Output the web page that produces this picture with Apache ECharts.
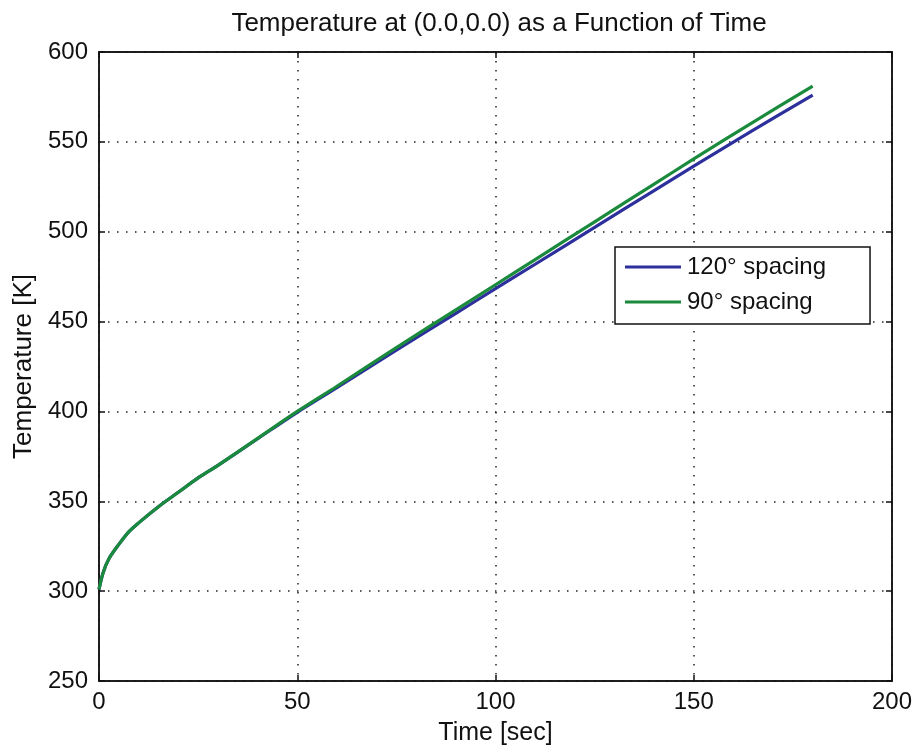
<!DOCTYPE html>
<html>
<head>
<meta charset="utf-8">
<script src="https://cdn.jsdelivr.net/npm/echarts@6/dist/echarts.min.js"></script>
<style>html,body{margin:0;padding:0;background:#fff;}#c{width:916px;height:748px;}</style>
</head>
<body>
<div id="c"></div>
<script>
var titleText = 'Temperature at (0.0,0.0) as a Function of Time';
var xName = 'Time [sec]';
var yName = 'Temperature [K]';
var seriesNames = ['120\u00b0 spacing', '90\u00b0 spacing'];
var times = [0, 1, 2.5, 5, 7.5, 10, 15, 20, 25, 30, 40, 50, 60, 75, 90, 100, 110, 125, 140, 150, 165, 180];
var temp120 = [301, 310, 318, 326, 333, 338, 347, 355, 363, 370, 384.8, 399.5, 413.2, 434.1, 454.6, 468.3, 481.9, 502.4, 522.9, 536.5, 556.5, 576];
var temp90  = [301, 310, 318, 326, 333, 338, 347, 355, 363, 370, 385, 400, 414, 435.5, 456.5, 470.5, 484.5, 505.5, 526.5, 540.5, 561, 581];
var xTicks = [0, 50, 100, 150, 200];
var yTicks = [250, 300, 350, 400, 450, 500, 550, 600];

function pairs(xs, ys) { return xs.map(function (x, i) { return [x, ys[i]]; }); }

var FONT = '"Liberation Sans", Arial, sans-serif';
var grid = { left: 99, top: 52, right: 24, bottom: 67 };
var dotted = { show: true, lineStyle: { color: '#222', width: 1.5, type: [1.5, 7.5] } };
var BLUE = '#2c2f9c', GREEN = '#1a8a3c';

var chart = echarts.init(document.getElementById('c'), null, { renderer: 'canvas' });
chart.setOption({
  animation: false,
  backgroundColor: '#fff',
  title: {
    text: titleText, left: 494, top: 6, textAlign: 'center',
    textStyle: { fontFamily: FONT, fontSize: 26, fontWeight: 'normal', color: '#111' }
  },
  legend: {
    orient: 'vertical', left: 615, top: 247,
    data: seriesNames, icon: 'rect',
    backgroundColor: '#fff', borderColor: '#111', borderWidth: 1.5, borderRadius: 0,
    padding: [8, 44, 10, 10], itemGap: 11, itemWidth: 56, itemHeight: 3,
    textStyle: { fontFamily: FONT, fontSize: 24, color: '#111', padding: [0, 0, 0, 1] }
  },
  grid: Object.assign({ show: true, borderColor: '#111', borderWidth: 1.5, backgroundColor: '#fff',
    containLabel: false, outerBoundsMode: 'none' }, grid),
  xAxis: [{
    type: 'value', min: 0, max: 200, interval: 50, position: 'bottom',
    name: xName, nameLocation: 'middle', nameGap: 40,
    nameTextStyle: { fontFamily: FONT, fontSize: 25, color: '#111' },
    axisLine: { show: true, onZero: false, lineStyle: { color: '#111', width: 1.5 } },
    axisTick: { show: true, inside: true, length: 6, lineStyle: { color: '#111', width: 1.5 } },
    axisLabel: { fontFamily: FONT, fontSize: 24, color: '#111', margin: 9,
      formatter: function (v) { return xTicks.indexOf(v) >= 0 ? String(v) : ''; } },
    splitLine: dotted
  }, {
    type: 'value', min: 0, max: 200, interval: 50, position: 'top',
    axisLine: { show: true, onZero: false, lineStyle: { color: '#111', width: 1.5 } },
    axisTick: { show: true, inside: true, length: 6, lineStyle: { color: '#111', width: 1.5 } },
    axisLabel: { show: false }, splitLine: { show: false }
  }],
  yAxis: [{
    type: 'value', min: 250, max: 600, interval: 50, position: 'left',
    name: yName, nameLocation: 'middle', nameGap: 60, nameRotate: 90,
    nameTextStyle: { fontFamily: FONT, fontSize: 26, color: '#111' },
    axisLine: { show: true, onZero: false, lineStyle: { color: '#111', width: 1.5 } },
    axisTick: { show: true, inside: true, length: 6, lineStyle: { color: '#111', width: 1.5 } },
    axisLabel: { fontFamily: FONT, fontSize: 24, color: '#111', margin: 11,
      formatter: function (v) { return yTicks.indexOf(v) >= 0 ? String(v) : ''; } },
    splitLine: dotted
  }, {
    type: 'value', min: 250, max: 600, interval: 50, position: 'right',
    axisLine: { show: true, onZero: false, lineStyle: { color: '#111', width: 1.5 } },
    axisTick: { show: true, inside: true, length: 6, lineStyle: { color: '#111', width: 1.5 } },
    axisLabel: { show: false }, splitLine: { show: false }
  }],
  series: [{
    name: seriesNames[0], type: 'line', xAxisIndex: 0, yAxisIndex: 0,
    data: pairs(times, temp120), symbol: 'none', smooth: 0.3,
    lineStyle: { color: BLUE, width: 3.2 }, itemStyle: { color: BLUE }
  }, {
    name: seriesNames[1], type: 'line', xAxisIndex: 0, yAxisIndex: 0,
    data: pairs(times, temp90), symbol: 'none', smooth: 0.3,
    lineStyle: { color: GREEN, width: 3.2 }, itemStyle: { color: GREEN }
  }]
});
</script>
</body>
</html>
